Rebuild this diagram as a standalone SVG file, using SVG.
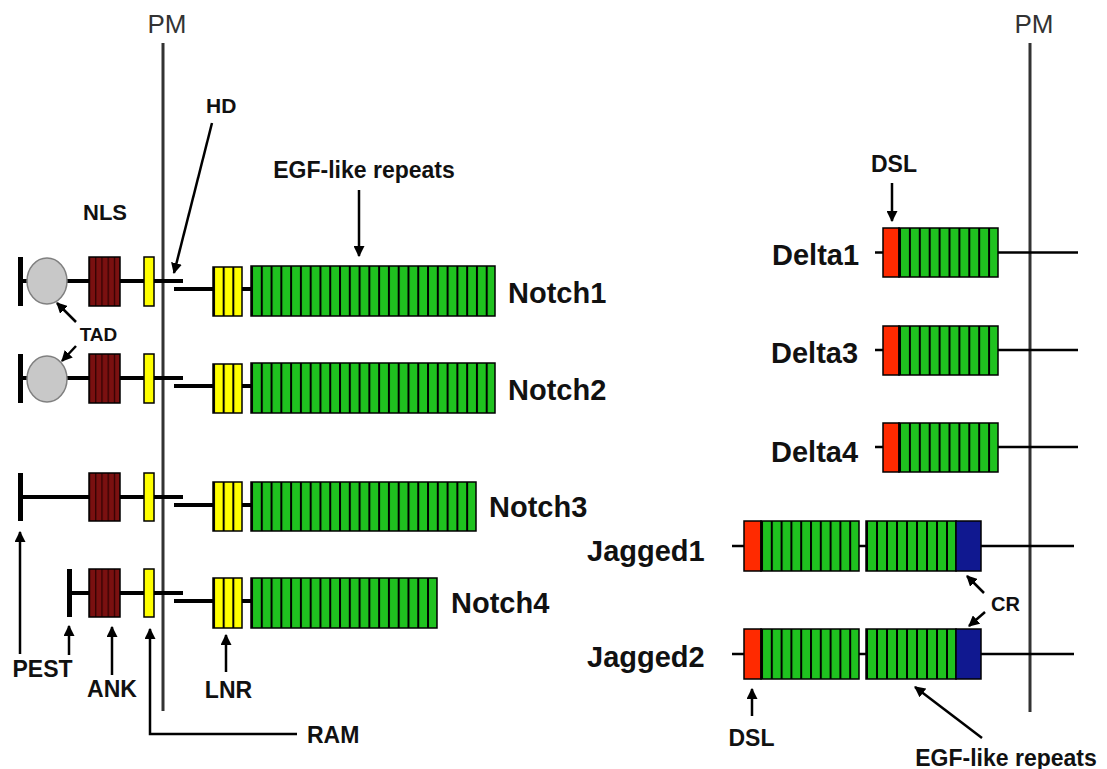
<svg xmlns="http://www.w3.org/2000/svg" width="1107" height="769" viewBox="0 0 1107 769">
<style>
.t{font-family:"Liberation Sans",Arial,sans-serif;font-weight:bold;fill:#111}
.big{font-size:29px}
.lab{font-size:23px}
.pm{font-family:"Liberation Sans",Arial,sans-serif;font-size:26px;fill:#333;text-anchor:middle}
.mem{stroke:#333;stroke-width:3}
.cyt{stroke:#000;stroke-width:4;fill:none}
.lig{stroke:#000;stroke-width:2.5;fill:none}
.box{stroke:#000;stroke-width:1.5}
.arr{stroke:#000;stroke-width:2.5;fill:none;marker-end:url(#ah)}
</style>
<defs>
<marker id="ah" viewBox="0 0 10 10" refX="9" refY="5" markerWidth="11" markerHeight="11" markerUnits="userSpaceOnUse" orient="auto"><path d="M0,0 L10,5 L0,10 z" fill="#000"/></marker>
<pattern id="egfN" patternUnits="userSpaceOnUse" x="251" y="0" width="9.78" height="769"><rect width="9.78" height="769" fill="#1fc21f"/><rect width="2" height="769" fill="#000"/></pattern>
<pattern id="lnr" patternUnits="userSpaceOnUse" x="213" y="0" width="9.67" height="769"><rect width="9.67" height="769" fill="#ffff00"/><rect width="2" height="769" fill="#000"/></pattern>
<pattern id="ank" patternUnits="userSpaceOnUse" x="89" y="0" width="6.2" height="769"><rect width="6.2" height="769" fill="#7a1010"/><rect width="1.2" height="769" fill="#2a0000"/></pattern>
<pattern id="egfD" patternUnits="userSpaceOnUse" x="899" y="0" width="9.9" height="769"><rect width="9.9" height="769" fill="#1fc21f"/><rect width="2" height="769" fill="#000"/></pattern>
<pattern id="egfJa" patternUnits="userSpaceOnUse" x="761" y="0" width="9.8" height="769"><rect width="9.8" height="769" fill="#1fc21f"/><rect width="2" height="769" fill="#000"/></pattern>
<pattern id="egfJb" patternUnits="userSpaceOnUse" x="866" y="0" width="10" height="769"><rect width="10" height="769" fill="#1fc21f"/><rect width="2" height="769" fill="#000"/></pattern>
</defs>
<rect width="1107" height="769" fill="#fff"/>

<g id="membranes">
<line class="mem" x1="163" y1="43" x2="163" y2="711"/>
<text class="pm" x="167" y="33">PM</text>
<line class="mem" x1="1030" y1="43" x2="1030" y2="712"/>
<text class="pm" x="1034" y="33">PM</text>
</g>

<g id="notch1">
<line class="cyt" x1="20" y1="281" x2="183" y2="281"/>
<line class="cyt" x1="174" y1="289" x2="251" y2="289"/>
<rect x="18" y="257" width="5" height="49" fill="#000"/>
<ellipse cx="47" cy="281" rx="20" ry="23" fill="#c8c8c8" stroke="#808080" stroke-width="1.5"/>
<rect class="box" x="89" y="257" width="31" height="49" fill="url(#ank)"/>
<rect class="box" x="144" y="257" width="10" height="49" fill="#ffff00"/>
<rect class="box" x="213" y="267" width="29" height="49" fill="url(#lnr)"/>
<rect class="box" x="251" y="266" width="244" height="50" fill="url(#egfN)"/>
<text class="t big" x="508" y="303">Notch1</text>
</g>

<g id="notch2">
<line class="cyt" x1="20" y1="378" x2="183" y2="378"/>
<line class="cyt" x1="174" y1="386" x2="251" y2="386"/>
<rect x="18" y="354" width="5" height="49" fill="#000"/>
<ellipse cx="47" cy="379" rx="20" ry="23" fill="#c8c8c8" stroke="#808080" stroke-width="1.5"/>
<rect class="box" x="89" y="354" width="31" height="49" fill="url(#ank)"/>
<rect class="box" x="144" y="354" width="10" height="49" fill="#ffff00"/>
<rect class="box" x="213" y="364" width="29" height="49" fill="url(#lnr)"/>
<rect class="box" x="251" y="363" width="244" height="50" fill="url(#egfN)"/>
<text class="t big" x="508" y="400">Notch2</text>
</g>

<g id="notch3">
<line class="cyt" x1="20" y1="497" x2="183" y2="497"/>
<line class="cyt" x1="174" y1="505" x2="251" y2="505"/>
<rect x="18" y="473" width="5" height="48" fill="#000"/>
<rect class="box" x="89" y="473" width="31" height="48" fill="url(#ank)"/>
<rect class="box" x="144" y="473" width="10" height="48" fill="#ffff00"/>
<rect class="box" x="213" y="482" width="29" height="49" fill="url(#lnr)"/>
<rect class="box" x="251" y="482" width="225" height="49" fill="url(#egfN)"/>
<text class="t big" x="489" y="517">Notch3</text>
</g>

<g id="notch4">
<line class="cyt" x1="69" y1="593" x2="183" y2="593"/>
<line class="cyt" x1="174" y1="601" x2="251" y2="601"/>
<rect x="67" y="569" width="5" height="48" fill="#000"/>
<rect class="box" x="89" y="569" width="31" height="48" fill="url(#ank)"/>
<rect class="box" x="144" y="569" width="10" height="48" fill="#ffff00"/>
<rect class="box" x="213" y="578" width="29" height="50" fill="url(#lnr)"/>
<rect class="box" x="251" y="578" width="186" height="50" fill="url(#egfN)"/>
<text class="t big" x="451" y="613">Notch4</text>
</g>

<g id="delta1">
<line class="lig" x1="875" y1="252.5" x2="1078" y2="252.5"/>
<rect class="box" x="883" y="228" width="16" height="49" fill="#ff2a00"/>
<rect class="box" x="899" y="228" width="99" height="49" fill="url(#egfD)"/>
<text class="t big" x="772" y="265">Delta1</text>
</g>

<g id="delta3">
<line class="lig" x1="875" y1="350" x2="1078" y2="350"/>
<rect class="box" x="883" y="326" width="16" height="49" fill="#ff2a00"/>
<rect class="box" x="899" y="326" width="99" height="49" fill="url(#egfD)"/>
<text class="t big" x="771" y="363">Delta3</text>
</g>

<g id="delta4">
<line class="lig" x1="875" y1="447" x2="1078" y2="447"/>
<rect class="box" x="883" y="423" width="16" height="49" fill="#ff2a00"/>
<rect class="box" x="899" y="423" width="99" height="49" fill="url(#egfD)"/>
<text class="t big" x="771" y="462">Delta4</text>
</g>

<g id="jagged1">
<line class="lig" x1="732" y1="546" x2="1074" y2="546"/>
<rect class="box" x="744" y="521" width="17" height="50" fill="#ff2a00"/>
<rect class="box" x="761" y="521" width="98" height="50" fill="url(#egfJa)"/>
<rect class="box" x="866" y="521" width="90" height="50" fill="url(#egfJb)"/>
<rect class="box" x="956" y="521" width="25" height="50" fill="#101890"/>
<text class="t big" x="587" y="561">Jagged1</text>
</g>

<g id="jagged2">
<line class="lig" x1="732" y1="654" x2="1074" y2="654"/>
<rect class="box" x="744" y="629" width="17" height="50" fill="#ff2a00"/>
<rect class="box" x="761" y="629" width="98" height="50" fill="url(#egfJa)"/>
<rect class="box" x="866" y="629" width="90" height="50" fill="url(#egfJb)"/>
<rect class="box" x="956" y="629" width="25" height="50" fill="#101890"/>
<text class="t big" x="587" y="667">Jagged2</text>
</g>

<g id="connectors">
<line class="arr" x1="212" y1="123" x2="174" y2="273"/>
<line class="arr" x1="359" y1="190" x2="359" y2="256"/>
<line class="arr" x1="76" y1="322" x2="57" y2="303"/>
<line class="arr" x1="76" y1="346" x2="62" y2="361"/>
<line class="arr" x1="20" y1="654" x2="20" y2="532"/>
<line class="arr" x1="69" y1="655" x2="69" y2="626"/>
<line class="arr" x1="112" y1="675" x2="112" y2="627"/>
<line class="arr" x1="226" y1="672" x2="226" y2="635"/>
<polyline class="arr" points="297,734 150,734 150,629"/>
<line class="arr" x1="892" y1="183" x2="892" y2="221"/>
<line class="arr" x1="984" y1="593" x2="967" y2="576"/>
<line class="arr" x1="985" y1="612" x2="969" y2="626"/>
<line class="arr" x1="752" y1="716" x2="752" y2="689"/>
<line class="arr" x1="982" y1="738" x2="915" y2="687"/>
</g>

<g id="labels">
<text class="t" x="206" y="113" font-size="21">HD</text>
<text class="t" x="83" y="220" font-size="22">NLS</text>
<text class="t lab" x="364" y="178" text-anchor="middle">EGF-like repeats</text>
<text class="t" x="98.5" y="341" font-size="19" text-anchor="middle">TAD</text>
<text class="t lab" x="42.5" y="677" text-anchor="middle">PEST</text>
<text class="t lab" x="112" y="697" text-anchor="middle">ANK</text>
<text class="t lab" x="228.5" y="698" text-anchor="middle">LNR</text>
<text class="t lab" x="307" y="743">RAM</text>
<text class="t lab" x="894" y="172" text-anchor="middle">DSL</text>
<text class="t" x="991" y="611" font-size="20">CR</text>
<text class="t lab" x="751.5" y="746" text-anchor="middle">DSL</text>
<text class="t lab" x="1006" y="766" text-anchor="middle">EGF-like repeats</text>
</g>
</svg>
